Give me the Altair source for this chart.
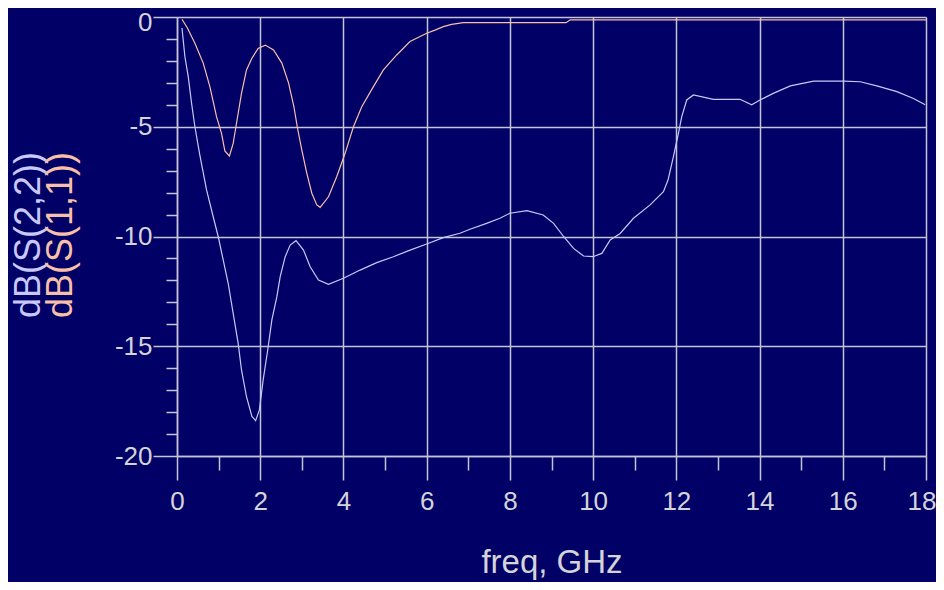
import altair as alt
import pandas as pd

# S(1,1) trace
s11_freq = [0.12, 0.25, 0.43, 0.63, 0.79, 0.95, 1.07, 1.15, 1.26, 1.35, 1.43, 1.55, 1.67, 1.8, 1.95,
            2.12, 2.32, 2.52, 2.68, 2.81, 2.89, 3.0, 3.12, 3.24, 3.36, 3.44, 3.64, 3.84, 4.04, 4.24,
            4.44, 4.72, 4.96, 5.28, 5.6, 6.0, 6.2, 6.4, 6.6, 6.88, 9.35, 9.45, 18.0]
s11_db = [-0.1, -0.5, -1.2, -2.1, -3.17, -4.54, -5.3, -6.1, -6.33, -5.76, -4.84, -3.48, -2.41, -1.88, -1.43,
          -1.28, -1.5, -2.1, -3.0, -4.09, -5.0, -6.06, -7.12, -8.03, -8.56, -8.67, -8.19, -7.27, -6.21, -5.0,
          -4.09, -3.17, -2.41, -1.73, -1.12, -0.74, -0.6, -0.44, -0.34, -0.26, -0.26, -0.13, -0.13]

# S(2,2) trace
s22_freq = [0.12, 0.19, 0.27, 0.35, 0.43, 0.55, 0.71, 0.87, 0.99, 1.11, 1.23, 1.35, 1.47, 1.55, 1.67,
            1.8, 1.89, 1.98, 2.07, 2.18, 2.28, 2.4, 2.48, 2.6, 2.72, 2.86, 3.04, 3.2, 3.4, 3.64,
            4.0, 4.4, 4.8, 5.2, 5.6, 6.0, 6.4, 6.8, 7.04, 7.44, 7.76, 8.0, 8.41, 8.8, 9.05,
            9.29, 9.53, 9.77, 10.0, 10.21, 10.41, 10.65, 10.97, 11.37, 11.69, 11.8, 11.93, 12.05, 12.13,
            12.25, 12.41, 12.89, 13.53, 13.81, 14.01, 14.33, 14.74, 15.3, 16.02, 16.42, 16.82, 17.3,
            17.7, 17.98]
s22_db = [-0.5, -1.81, -2.72, -3.93, -5.0, -6.3, -7.88, -9.1, -10.0, -11.07, -12.13, -13.5, -14.87, -16.08, -17.3,
          -18.2, -18.39, -17.9, -16.54, -15.17, -13.8, -12.74, -11.83, -10.92, -10.39, -10.19, -10.62, -11.38, -11.98, -12.18,
          -11.9, -11.53, -11.19, -10.92, -10.62, -10.34, -10.05, -9.85, -9.67, -9.4, -9.17, -8.94, -8.82, -9.02, -9.4,
          -10.0, -10.54, -10.89, -10.92, -10.77, -10.16, -9.86, -9.17, -8.56, -7.96, -7.43, -6.36, -5.3, -4.54,
          -3.78, -3.55, -3.75, -3.75, -4.0, -3.78, -3.48, -3.14, -2.92, -2.92, -2.95, -3.14, -3.4,
          -3.71, -4.0]

x_ticks = list(range(0, 19))
y_ticks = list(range(-20, 1))
title_s22 = "dB(S(2,2))"
title_s11 = "dB(S(1,1))"

BG = "#000066"
GRID = "#c4c4d4"
LABEL = "#d4d4d8"
C22 = "#c8c8fa"
C11 = "#f8c0a8"
FONT = "Liberation Sans, Arial, sans-serif"

df11 = pd.DataFrame({"freq": s11_freq, "db": s11_db})
df22 = pd.DataFrame({"freq": s22_freq, "db": s22_db})

x_enc = alt.X(
    "freq:Q",
    scale=alt.Scale(domain=[0, 18], nice=False, zero=False),
    axis=alt.Axis(
        values=x_ticks,
        title="freq, GHz",
        titleFont=FONT, titleFontSize=33, titleFontWeight="normal", titleColor=LABEL,
        titlePadding=32,
        labelExpr="datum.value % 2 === 0 ? toString(datum.value) : ''",
        labelFont=FONT, labelFontSize=26, labelColor=LABEL, labelPadding=8,
        labelFlush=False, labelOverlap=False,
        labelAlign={"condition": {"test": "datum.value === 18", "value": "right"}, "value": "center"},
        labelOffset={"condition": {"test": "datum.value === 18", "value": 10}, "value": 0},
        tickSize={"condition": {"test": "datum.value % 2 === 0", "value": 24}, "value": 14},
        tickColor=GRID, tickWidth=1.5,
        domainColor=GRID, domainWidth=1.5,
        grid=True,
        gridOpacity={"condition": {"test": "datum.value % 2 === 0", "value": 1}, "value": 0},
        gridColor=GRID, gridWidth=1.5,
    ),
)
y_enc = alt.Y(
    "db:Q",
    scale=alt.Scale(domain=[-20, 0], nice=False, zero=False),
    axis=alt.Axis(
        values=y_ticks,
        title=None,
        labelExpr="datum.value % 5 === 0 ? toString(datum.value) : ''",
        labelFont=FONT, labelFontSize=26, labelColor=LABEL, labelPadding=1,
        labelFlush=False, labelOverlap=False,
        labelBaseline={"condition": {"test": "datum.value === 0", "value": "top"}, "value": "middle"},
        labelOffset={"condition": {"test": "datum.value === 0", "value": -8}, "value": 0},
        tickSize={"condition": {"test": "datum.value % 5 === 0", "value": 24}, "value": 11},
        tickColor=GRID, tickWidth=1.5,
        domainColor=GRID, domainWidth=1.5,
        grid=True,
        gridOpacity={"condition": {"test": "datum.value % 5 === 0", "value": 1}, "value": 0},
        gridColor=GRID, gridWidth=1.5,
    ),
)

line22 = alt.Chart(df22).mark_line(color=C22, strokeWidth=1.2).encode(x=x_enc, y=y_enc, order="freq:Q")
line11 = alt.Chart(df11).mark_line(color=C11, strokeWidth=1.2).encode(x=x_enc, y=y_enc, order="freq:Q")

lab22 = alt.Chart(pd.DataFrame({"t": [title_s22]})).mark_text(
    angle=270, font=FONT, fontSize=36, color=C22, align="center", baseline="middle"
).encode(text="t:N", x=alt.value(-148), y=alt.value(218))
lab11 = alt.Chart(pd.DataFrame({"t": [title_s11]})).mark_text(
    angle=270, font=FONT, fontSize=36, color=C11, align="center", baseline="middle"
).encode(text="t:N", x=alt.value(-116), y=alt.value(218))

chart = alt.layer(line22, line11, lab22, lab11).properties(
    width=749, height=439,
    autosize=alt.AutoSizeParams(type="none"),
    padding={"left": 169, "top": 9, "right": 10, "bottom": 126},
    background=BG,
).configure_view(strokeWidth=0).configure_axis(labelOverlap=False)

chart.save("out.html", embed_options={"renderer": "svg", "actions": False})
